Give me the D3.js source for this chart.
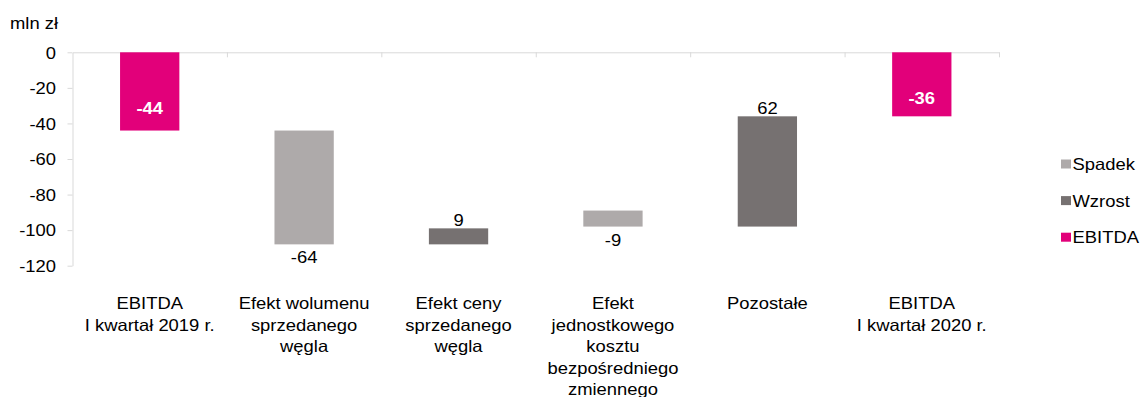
<!DOCTYPE html>
<html>
<head>
<meta charset="utf-8">
<script src="https://cdn.jsdelivr.net/npm/d3@7"></script>
<style>
  html, body { margin: 0; padding: 0; background: #fff; }
  svg { display: block; }
  text { font-family: "Liberation Sans", Arial, sans-serif; fill: #000; }
</style>
</head>
<body>
<svg id="chart" width="1140" height="397"></svg>
<script>
// Waterfall: EBITDA bridge, Q1 2019 -> Q1 2020 (mln zł)
const categories = [
  ["EBITDA", "I kwartał 2019 r."],
  ["Efekt wolumenu", "sprzedanego", "węgla"],
  ["Efekt ceny", "sprzedanego", "węgla"],
  ["Efekt", "jednostkowego", "kosztu", "bezpośredniego", "zmiennego"],
  ["Pozostałe"],
  ["EBITDA", "I kwartał 2020 r."]
];
const values = [-44, -64, 9, -9, 62, -36];
const bases  = [0, -44, -108, -89, -98, 0];
const kinds  = ["EBITDA", "Spadek", "Wzrost", "Spadek", "Wzrost", "EBITDA"];
const yTicks = [0, -20, -40, -60, -80, -100, -120];
const legendItems = ["Spadek", "Wzrost", "EBITDA"];
const unitLabel = "mln zł";

const colors = { Spadek: "#AEAAAA", Wzrost: "#767171", EBITDA: "#E2007A" };
const SX = 1.13;           // horizontal text stretch
const FS = 16.3;           // base font size
const axisColor = "#d9d9d9";

const svg = d3.select("#chart");
const plotLeft = 72.5, plotRight = 999, plotTop = 52.3, plotBottom = 265.7;

const y = d3.scaleLinear().domain([0, -120]).range([plotTop, plotBottom]);
const x = d3.scaleBand().domain(d3.range(categories.length))
  .range([plotLeft, plotRight]).paddingInner(0.616).paddingOuter(0.308);
const xb = d3.scaleLinear().domain([0, categories.length]).range([plotLeft, plotRight]);

// unit label
svg.append("text")
  .attr("transform", `translate(10,29.3) scale(${SX},1)`)
  .style("font-size", FS + "px")
  .text(unitLabel);

// y axis
const yAxis = svg.append("g")
  .attr("transform", `translate(${plotLeft},0)`)
  .call(d3.axisLeft(y).tickValues(yTicks).tickSize(5).tickSizeOuter(0)
    .tickFormat(d => String(d)));
yAxis.select(".domain").attr("stroke", axisColor);
yAxis.selectAll(".tick line").attr("stroke", axisColor);
yAxis.selectAll(".tick text")
  .attr("x", -16.5 / SX).attr("dy", "0.35em")
  .attr("transform", `scale(${SX},1)`)
  .style("font-size", FS + "px")
  .attr("font-family", null).attr("fill", "#000");

// category boundary axis along zero
const xAxis = svg.append("g")
  .attr("transform", `translate(0,${y(0)})`)
  .call(d3.axisBottom(xb).tickValues(d3.range(1, categories.length + 1))
    .tickSize(5).tickSizeOuter(0).tickFormat(""));
xAxis.select(".domain").attr("stroke", axisColor);
xAxis.selectAll(".tick line").attr("stroke", axisColor);

// category labels
const catAxis = svg.append("g")
  .attr("transform", `translate(0,${plotBottom})`)
  .call(d3.axisBottom(x).tickSize(0).tickFormat(""));
catAxis.select(".domain").remove();
catAxis.selectAll(".tick").each(function(i) {
  const t = d3.select(this).append("text")
    .attr("transform", `scale(${SX},1)`)
    .attr("text-anchor", "middle")
    .style("font-size", FS + "px")
    .attr("fill", "#000");
  categories[i].forEach((line, k) => {
    t.append("tspan").attr("x", 0).attr("y", 43.8 + k * 21.4).text(line);
  });
});

// bars
const bars = values.map((v, i) => ({ i, v, base: bases[i], end: bases[i] + v, kind: kinds[i] }));
svg.append("g").selectAll("rect").data(bars).join("rect")
  .attr("x", d => x(d.i))
  .attr("width", x.bandwidth())
  .attr("y", d => y(Math.max(d.base, d.end)))
  .attr("height", d => Math.abs(y(d.end) - y(d.base)))
  .attr("fill", d => colors[d.kind]);

// value labels
svg.append("g").selectAll("text").data(bars).join("text")
  .attr("transform", d => {
    const cx = x(d.i) + x.bandwidth() / 2;
    let by;
    if (d.kind === "EBITDA") by = y(d.base + d.v * 0.71) + 5.8;
    else if (d.v > 0) by = y(d.end) - 2;
    else by = y(d.end) + 19;
    return `translate(${cx},${by}) scale(${SX},1)`;
  })
  .attr("text-anchor", "middle")
  .style("font-size", FS + "px")
  .style("font-weight", d => d.kind === "EBITDA" ? "bold" : "normal")
  .style("fill", d => d.kind === "EBITDA" ? "#fff" : "#000")
  .text(d => String(d.v));

// legend
const lg = svg.append("g").selectAll("g").data(legendItems).join("g")
  .attr("transform", (d, k) => `translate(1061,${170 + k * 36.6})`);
lg.append("rect")
  .attr("x", 0).attr("y", -10.5).attr("width", 10).attr("height", 9)
  .attr("fill", d => colors[d]);
lg.append("text")
  .attr("transform", `translate(11.5,0) scale(${SX},1)`)
  .style("font-size", FS + "px")
  .text(d => d);
</script>
</body>
</html>
